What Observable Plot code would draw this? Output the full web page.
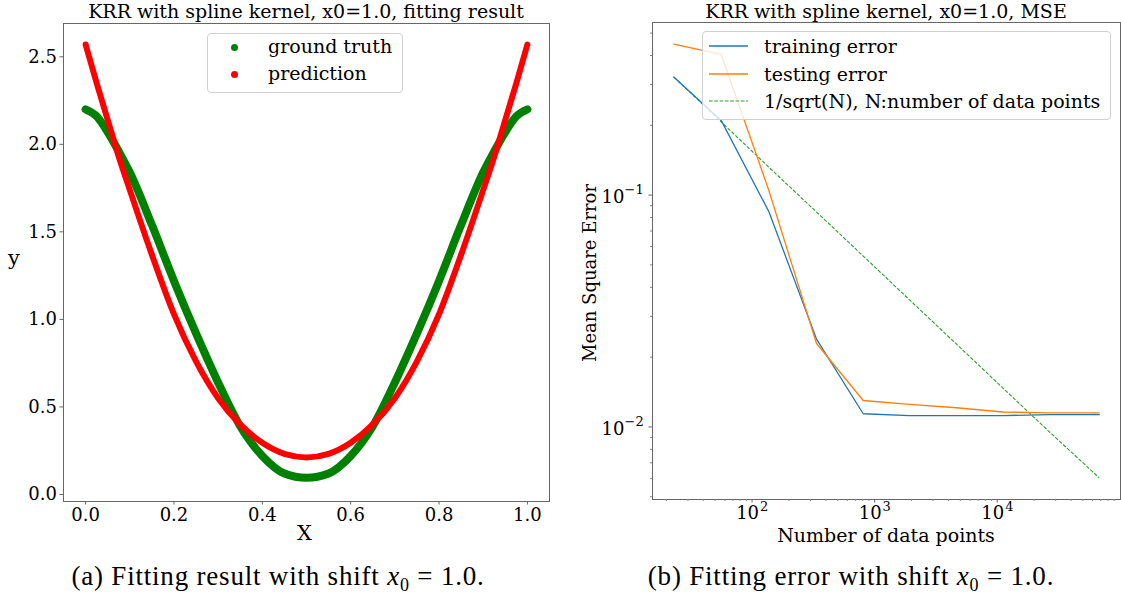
<!DOCTYPE html>
<html>
<head>
<meta charset="utf-8">
<script src="https://cdn.jsdelivr.net/npm/d3@7"></script>
<script src="https://cdn.jsdelivr.net/npm/@observablehq/plot@0.6"></script>
<style>
  html, body { margin: 0; padding: 0; background: #fff; }
  #root { position: relative; width: 1121px; height: 601px; overflow: hidden; font-family: "DejaVu Serif", serif; color: #000; }
  .abs { position: absolute; line-height: 1; }
  .title { font-size: 19px; white-space: nowrap; transform: translateX(-50%); }
  .legend { position: absolute; background: rgba(255,255,255,0.8); border: 1px solid #d0d0d0; border-radius: 4px; box-sizing: border-box; }
  .item { position: absolute; font-size: 19px; white-space: nowrap; line-height: 1; }
  .dot { position: absolute; width: 7px; height: 7px; border-radius: 50%; }
  .sw { position: absolute; }
  .caption { font-family: "Liberation Serif", serif; font-size: 27px; letter-spacing: 0.8px; white-space: nowrap; transform: translateX(-50%); }
</style>
</head>
<body>
<div id="root"></div>
<script>
// ---------- Data: left panel (fitting result) ----------
const xValues = [0, 0.025, 0.05, 0.075, 0.1, 0.15, 0.2, 0.25, 0.3, 0.35, 0.4, 0.45, 0.5,
                 0.55, 0.6, 0.65, 0.7, 0.75, 0.8, 0.85, 0.9, 0.925, 0.95, 0.975, 1.0];
const groundTruth = [2.20, 2.16, 2.07, 1.96, 1.84, 1.54, 1.22, 0.92, 0.64, 0.39, 0.22, 0.12, 0.095,
                     0.12, 0.22, 0.39, 0.64, 0.92, 1.22, 1.54, 1.84, 1.96, 2.07, 2.16, 2.20];
const prediction = [2.57, 2.35, 2.14, 1.93, 1.74, 1.37, 1.03, 0.76, 0.55, 0.40, 0.295, 0.232, 0.212,
                    0.232, 0.295, 0.40, 0.55, 0.76, 1.03, 1.37, 1.74, 1.93, 2.14, 2.35, 2.57];
const leftXTicks = [0, 0.2, 0.4, 0.6, 0.8, 1.0];
const leftYTicks = [0, 0.5, 1.0, 1.5, 2.0, 2.5];

// ---------- Data: right panel (MSE) ----------
const nPoints = [23, 56, 137, 336, 807, 1930, 4640, 11150, 26800, 68000];
const trainingError = [0.323, 0.210, 0.085, 0.0239, 0.0114, 0.0112, 0.0112, 0.0112, 0.0113, 0.0113];
const testingError = [0.448, 0.405, 0.105, 0.0229, 0.0130, 0.0125, 0.0121, 0.0116, 0.0115, 0.0115];
const invSqrtN = [0.323, 0.207, 0.132, 0.0845, 0.0546, 0.0353, 0.0228, 0.0147, 0.0095, 0.00603];
const rightXTicks = [100, 1000, 10000];
const rightXTickExp = ["2", "3", "4"];
const rightYTicks = [0.01, 0.1];
const rightYTickExp = ["\u22122", "\u22121"];
const rightXMinor = [20,30,40,50,60,70,80,90,200,300,400,500,600,700,800,900,
                     2000,3000,4000,5000,6000,7000,8000,9000,20000,30000,40000,50000,60000,70000,80000,90000];
const rightYMinor = [0.005,0.006,0.007,0.008,0.009,0.02,0.03,0.04,0.05,0.06,0.07,0.08,0.09,0.2,0.3,0.4,0.5];

const root = document.getElementById("root");

const gt = xValues.map((x, i) => ({x, y: groundTruth[i]}));
const pr = xValues.map((x, i) => ({x, y: prediction[i]}));

const axisStyle = {fontFamily: "DejaVu Serif", fontSize: "18px", color: "#000", background: "transparent", overflow: "visible"};

const leftPlot = Plot.plot({
  width: 560, height: 550,
  marginLeft: 63, marginRight: 11, marginTop: 23, marginBottom: 49,
  style: axisStyle,
  x: {domain: [-0.05, 1.05]},
  y: {domain: [-0.04, 2.69]},
  marks: [
    Plot.line(gt, {x: "x", y: "y", stroke: "#008000", strokeWidth: 8, curve: "monotone-x"}),
    Plot.line(pr, {x: "x", y: "y", stroke: "#ff0000", strokeWidth: 6, curve: "monotone-x"}),
    Plot.frame({stroke: "#666", strokeWidth: 1}),
    Plot.axisX({ticks: leftXTicks, tickFormat: d3.format(".1f"), tickSize: 3.5, tickPadding: 3, label: null, stroke: "#666", fontSize: 18}),
    Plot.axisY({ticks: leftYTicks, tickFormat: d3.format(".1f"), tickSize: 3.5, tickPadding: 3, label: null, stroke: "#666", fontSize: 18})
  ]
});
leftPlot.style.position = "absolute";
leftPlot.style.left = "0px";
leftPlot.style.top = "0px";
root.appendChild(leftPlot);

const train = nPoints.map((n, i) => ({n, v: trainingError[i]}));
const test = nPoints.map((n, i) => ({n, v: testingError[i]}));
const guide = nPoints.map((n, i) => ({n, v: invSqrtN[i]}));

const rightPlot = Plot.plot({
  width: 561, height: 550,
  marginLeft: 92, marginRight: 1, marginTop: 22, marginBottom: 51,
  style: axisStyle,
  x: {type: "log", domain: [Math.pow(10, 1.188), Math.pow(10, 5.006)]},
  y: {type: "log", domain: [Math.pow(10, -2.313), Math.pow(10, -0.2555)]},
  marks: [
    Plot.line(guide, {x: "n", y: "v", stroke: "#2ca02c", strokeWidth: 1.1, strokeDasharray: "3.7,1.6", strokeLinecap: "butt"}),
    Plot.line(train, {x: "n", y: "v", stroke: "#1f77b4", strokeWidth: 1.3}),
    Plot.line(test, {x: "n", y: "v", stroke: "#ff7f0e", strokeWidth: 1.3}),
    Plot.frame({stroke: "#666", strokeWidth: 1}),
    Plot.axisX({ticks: rightXMinor, tickFormat: () => "", tickSize: 2, stroke: "#888", label: null}),
    Plot.axisY({ticks: rightYMinor, tickFormat: () => "", tickSize: 2, stroke: "#888", label: null}),
    Plot.axisX({ticks: rightXTicks, tickFormat: () => "", tickSize: 3.5, stroke: "#666", label: null}),
    Plot.axisY({ticks: rightYTicks, tickFormat: () => "", tickSize: 3.5, stroke: "#666", label: null}),
    // major tick labels: "10" with a raised exponent
    Plot.text(rightXTicks, {x: d => d, frameAnchor: "bottom", text: () => "10", textAnchor: "end", dx: 7, dy: 14, fontSize: 18, lineAnchor: "middle"}),
    Plot.text(rightXTicks, {x: d => d, frameAnchor: "bottom", text: (d, i) => rightXTickExp[i], textAnchor: "start", dx: 8, dy: 7, fontSize: 13, lineAnchor: "middle"}),
    Plot.text(rightYTicks, {y: d => d, frameAnchor: "left", text: () => "10", textAnchor: "end", dx: -28, dy: 2, fontSize: 18, lineAnchor: "middle"}),
    Plot.text(rightYTicks, {y: d => d, frameAnchor: "left", text: (d, i) => rightYTickExp[i], textAnchor: "start", dx: -28, dy: -5, fontSize: 13, lineAnchor: "middle"})
  ]
});
rightPlot.style.position = "absolute";
rightPlot.style.left = "560px";
rightPlot.style.top = "0px";
root.appendChild(rightPlot);

function addDiv(cls, html, css) {
  const d = document.createElement("div");
  d.className = cls;
  d.innerHTML = html;
  Object.assign(d.style, css);
  root.appendChild(d);
  return d;
}

// Titles
addDiv("abs title", "KRR with spline kernel, x0=1.0, fitting result", {left: "306px", top: "2px"});
addDiv("abs title", "KRR with spline kernel, x0=1.0, MSE", {left: "886px", top: "2px"});

// Axis labels
addDiv("abs", "X", {left: "297px", top: "523px", fontSize: "21px"});
addDiv("abs", "y", {left: "8px", top: "248px", fontSize: "21px"});
addDiv("abs", "Number of data points", {left: "886px", top: "526px", fontSize: "19px", transform: "translateX(-50%)", whiteSpace: "nowrap"});
addDiv("abs", "Mean Square Error", {left: "590px", top: "273px", fontSize: "18px", transform: "translate(-50%,-50%) rotate(-90deg)", whiteSpace: "nowrap"});

// Left legend
const lg = addDiv("legend", "", {left: "207px", top: "33px", width: "196px", height: "60px"});
const legendLeft = [{label: "ground truth", color: "#008000"}, {label: "prediction", color: "#ff0000"}];
legendLeft.forEach((it, i) => {
  const dot = document.createElement("div");
  dot.className = "dot";
  Object.assign(dot.style, {left: "23px", top: (10 + i * 27) + "px", background: it.color});
  lg.appendChild(dot);
  const t = document.createElement("div");
  t.className = "item";
  t.textContent = it.label;
  Object.assign(t.style, {left: "60px", top: (3 + i * 27) + "px"});
  lg.appendChild(t);
});

// Right legend
const rg = addDiv("legend", "", {left: "702px", top: "31px", width: "409px", height: "89px"});
const legendRight = [
  {label: "training error", color: "#1f77b4", dash: null},
  {label: "testing error", color: "#ff7f0e", dash: null},
  {label: "1/sqrt(N), N:number of data points", color: "#2ca02c", dash: "3.7,1.6"}
];
const svgNS = "http://www.w3.org/2000/svg";
legendRight.forEach((it, i) => {
  const sw = document.createElementNS(svgNS, "svg");
  sw.setAttribute("width", "40");
  sw.setAttribute("height", "6");
  sw.setAttribute("class", "sw");
  sw.style.left = "6px";
  sw.style.top = (11 + i * 27.5) + "px";
  const ln = document.createElementNS(svgNS, "line");
  ln.setAttribute("x1", "0"); ln.setAttribute("x2", "39");
  ln.setAttribute("y1", "3"); ln.setAttribute("y2", "3");
  ln.setAttribute("stroke", it.color);
  ln.setAttribute("stroke-width", it.dash ? "1.2" : "1.4");
  if (it.dash) ln.setAttribute("stroke-dasharray", it.dash);
  sw.appendChild(ln);
  rg.appendChild(sw);
  const t = document.createElement("div");
  t.className = "item";
  t.textContent = it.label;
  Object.assign(t.style, {left: "61px", top: (5 + i * 27.5) + "px"});
  rg.appendChild(t);
});

// Captions
addDiv("abs caption", "(a) Fitting result with shift <i>x</i><sub style=\"font-size:18px\">0</sub> = 1.0.", {left: "278px", top: "563px"});
addDiv("abs caption", "(b) Fitting error with shift <i>x</i><sub style=\"font-size:18px\">0</sub> = 1.0.", {left: "851px", top: "563px"});
</script>
</body>
</html>
